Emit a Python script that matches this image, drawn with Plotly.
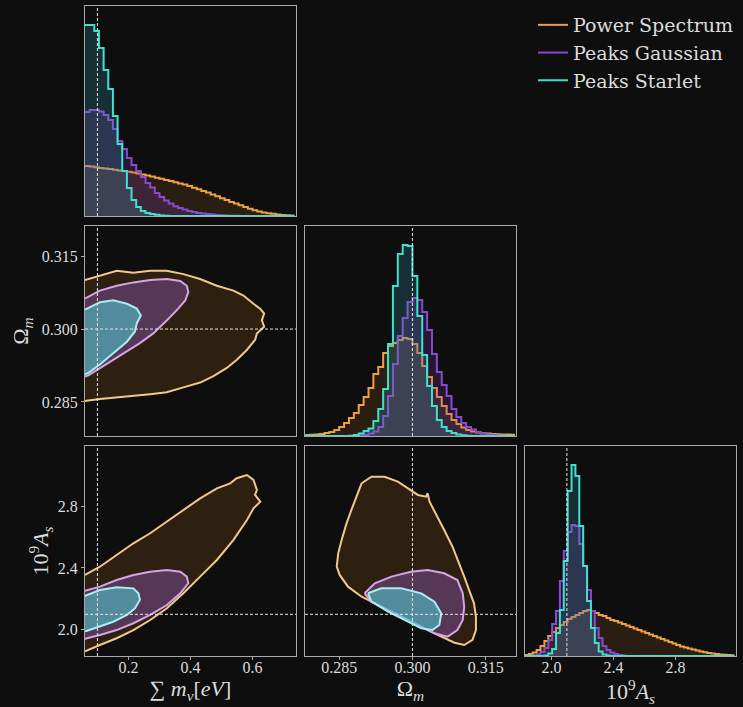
import numpy as np
import plotly.graph_objects as go

# ---------------- data ----------------
series_names = ["Power Spectrum", "Peaks Gaussian", "Peaks Starlet"]
fiducial_mnu = 0.1
fiducial_om = 0.3
fiducial_as = 2.1

range_mnu = [0.06, 0.74]
range_om = [0.278, 0.3212]
range_as = [1.83, 3.19]

ticks_mnu = [0.2, 0.4, 0.6]
ticks_om = [0.285, 0.300, 0.315]
ticks_as = [2.0, 2.4, 2.8]

# 1D marginal histograms (relative counts per bin)
mnu_bin_lo, mnu_bin_hi, mnu_nbins = 0.06, 0.735, 45
om_bin_lo, om_bin_hi, om_nbins = 0.278, 0.321, 43
as_bin_lo, as_bin_hi, as_nbins = 1.83, 3.18, 54

hist_mnu_ps = [50, 49.4, 48.8, 48.1, 47.5, 46.9, 46.3, 45.6, 45, 44.3, 43.6, 42.6, 41.5, 40.4, 39.4,
               38.3, 37.3, 36.1, 35, 33.8, 32.6, 31.5, 29.9, 28.3, 26.7, 25.1, 23.4, 21.5, 19.7, 17.8,
               16, 14.1, 12.4, 10.8, 9, 7.2, 5.7, 4.6, 3.6, 2.8, 2.2, 1.6, 1.1, 0.8, 0.6]
hist_mnu_pg = [104, 106, 106, 104.5, 101, 96, 87, 75, 67, 58, 51, 45, 39, 33, 28.5,
               23, 19, 15.5, 12.5, 9.7, 8, 6.5, 5, 4, 3, 2.4, 1.9, 1.4, 1, 0.7,
               0.5, 0.3, 0.2, 0, 0, 0, 0, 0, 0, 0, 0, 0, 0, 0, 0]
hist_mnu_st = [191, 191, 185, 168, 146, 127, 100, 72, 45, 28, 16, 9, 5, 3, 2,
               1.2, 0.6, 0.3, 0, 0, 0, 0, 0, 0, 0, 0, 0, 0, 0, 0,
               0, 0, 0, 0, 0, 0, 0, 0, 0, 0, 0, 0, 0, 0, 0]

hist_om_ps = [1, 1.2, 1.5, 2, 3, 4, 6, 9, 13, 18, 23, 31, 39, 48, 62, 69, 83, 90, 93, 96, 98, 97,
              92, 83, 70, 59, 48, 39, 30, 22, 16, 12, 8.5, 6, 4.5, 3.5, 2.8, 2.5, 2, 1.8, 1.6, 1.5, 1.3]
hist_om_pg = [0, 0, 0, 0, 0, 0, 0, 0, 0, 0, 0.3, 0.5, 1, 2.5, 4.5, 9, 20, 40, 72, 100, 118, 134,
              138, 136, 124, 106, 82, 64, 51, 40, 27, 19, 13, 9, 6.5, 4, 2.5, 1.5, 1, 0.5, 0.3, 0.1, 0]
hist_om_st = [0, 0, 0, 0, 0, 0, 0, 0, 0, 0.3, 1, 2.5, 5, 7.5, 15, 27, 47, 92, 150, 182, 191, 190,
              160, 120, 81, 50, 30, 16, 9, 5, 3, 1.5, 0.7, 0.3, 0, 0, 0, 0, 0, 0, 0, 0, 0]

hist_as_ps = [1, 2, 3.5, 6, 10, 15, 20, 24, 28, 31, 34, 37, 39, 41, 43, 45, 46, 45, 43, 41, 40, 38, 36, 35,
              33.5, 32, 30.5, 29, 27.5, 26, 24.5, 23, 21.5, 20, 18.5, 17, 15.5, 14, 12.5, 11, 9.5, 8.5,
              7.5, 6.5, 5.5, 4.5, 3.8, 3, 2.5, 2, 1.5, 1.2, 1, 0.8]
hist_as_pg = [0, 0, 0.5, 1.5, 4, 8, 16, 32, 45, 75, 105, 124, 131, 130, 112, 90, 66, 45, 28, 18, 10, 6,
              3.5, 2, 1, 0.5, 0, 0, 0, 0, 0, 0, 0, 0, 0, 0, 0, 0, 0, 0, 0, 0, 0, 0, 0, 0, 0, 0, 0, 0,
              0, 0, 0, 0]
hist_as_st = [0, 0, 0, 0, 0, 0.5, 2.5, 7, 23, 46, 95, 165, 191, 180, 130, 90, 55, 28, 13, 4.5, 1.5, 0.5,
              0, 0, 0, 0, 0, 0, 0, 0, 0, 0, 0, 0, 0, 0, 0, 0, 0, 0, 0, 0, 0, 0, 0, 0, 0, 0, 0, 0,
              0, 0, 0, 0]

# 2D credible contours (boundary vertices in data units)
c_mo_ps_x = [0.06, 0.0706, 0.1084, 0.1623, 0.2158, 0.2697, 0.3235, 0.3771, 0.4310, 0.4848, 0.5384, 0.5706,
             0.6029, 0.6245, 0.6374, 0.6300, 0.6374, 0.6139, 0.6084, 0.5816, 0.5494, 0.5171, 0.4739, 0.4310,
             0.3771, 0.3235, 0.2697, 0.2158, 0.1623, 0.1084, 0.0706, 0.06]
c_mo_ps_y = [0.3101, 0.3103, 0.3109, 0.3120, 0.3116, 0.3120, 0.3120, 0.3113, 0.3103, 0.3089, 0.3079, 0.3069,
             0.3052, 0.3042, 0.3032, 0.3018, 0.3005, 0.2991, 0.2978, 0.2957, 0.2937, 0.2920, 0.2903, 0.2890,
             0.2880, 0.2870, 0.2866, 0.2863, 0.2859, 0.2856, 0.2853, 0.2852]
c_mo_pg_x = [0.06, 0.067, 0.108, 0.162, 0.216, 0.270, 0.324, 0.367, 0.388, 0.393, 0.383, 0.356, 0.324, 0.280,
             0.237, 0.195, 0.151, 0.108, 0.071, 0.06]
c_mo_pg_y = [0.3063, 0.3065, 0.3079, 0.3089, 0.3096, 0.3101, 0.3103, 0.3099, 0.3089, 0.3076, 0.3059, 0.3039,
             0.3018, 0.2991, 0.2971, 0.2954, 0.2937, 0.2920, 0.2905, 0.2902]
c_mo_st_x = [0.06, 0.067, 0.108, 0.151, 0.195, 0.227, 0.240, 0.227, 0.221, 0.195, 0.151, 0.108, 0.071, 0.06]
c_mo_st_y = [0.3040, 0.3042, 0.3055, 0.3059, 0.3052, 0.3042, 0.3028, 0.3012, 0.2995, 0.2974, 0.2951, 0.2927,
             0.2910, 0.2907]

c_ma_ps_x = [0.06, 0.071, 0.108, 0.162, 0.216, 0.270, 0.324, 0.377, 0.431, 0.485, 0.528, 0.549, 0.582, 0.603,
             0.614, 0.608, 0.625, 0.603, 0.582, 0.538, 0.485, 0.431, 0.377, 0.324, 0.270, 0.216, 0.162, 0.108,
             0.071, 0.06]
c_ma_ps_y = [2.355, 2.366, 2.408, 2.484, 2.560, 2.625, 2.700, 2.776, 2.851, 2.916, 2.948, 2.981, 3.002, 2.970,
             2.905, 2.873, 2.829, 2.786, 2.711, 2.581, 2.452, 2.344, 2.236, 2.139, 2.063, 1.998, 1.945, 1.901,
             1.869, 1.860]
c_ma_pg_x = [0.06, 0.067, 0.108, 0.162, 0.216, 0.270, 0.324, 0.367, 0.388, 0.393, 0.367, 0.324, 0.270, 0.216,
             0.162, 0.108, 0.067, 0.06]
c_ma_pg_y = [2.253, 2.257, 2.279, 2.322, 2.355, 2.376, 2.387, 2.376, 2.344, 2.301, 2.236, 2.160, 2.096, 2.042,
             1.998, 1.966, 1.945, 1.941]
c_ma_st_x = [0.06, 0.067, 0.108, 0.162, 0.216, 0.232, 0.237, 0.221, 0.195, 0.151, 0.108, 0.067, 0.06]
c_ma_st_y = [2.219, 2.225, 2.257, 2.275, 2.268, 2.236, 2.193, 2.139, 2.096, 2.052, 2.020, 1.994, 1.990]

c_oa_ps_x = [0.2896, 0.2916, 0.2943, 0.2970, 0.2991, 0.3011, 0.3028, 0.3031, 0.3035, 0.3048, 0.3065, 0.3082,
             0.3096, 0.3106, 0.3116, 0.3126, 0.3130, 0.3130, 0.3123, 0.3106, 0.3086, 0.3059, 0.3031, 0.2997,
             0.2963, 0.2929, 0.2896, 0.2868, 0.2851, 0.2845, 0.2848, 0.2855, 0.2865, 0.2875, 0.2885]
c_oa_ps_y = [2.949, 2.991, 2.991, 2.959, 2.916, 2.873, 2.862, 2.884, 2.829, 2.754, 2.646, 2.538, 2.430, 2.344,
             2.257, 2.171, 2.084, 1.998, 1.934, 1.901, 1.916, 1.955, 1.998, 2.052, 2.106, 2.160, 2.214, 2.279,
             2.355, 2.408, 2.495, 2.581, 2.689, 2.776, 2.862]
c_oa_pg_x = [0.2902, 0.2923, 0.2957, 0.2997, 0.3031, 0.3065, 0.3092, 0.3103, 0.3106, 0.3103, 0.3092, 0.3072,
             0.3045, 0.3018, 0.2984, 0.2950, 0.2916]
c_oa_pg_y = [2.236, 2.301, 2.344, 2.376, 2.387, 2.366, 2.322, 2.236, 2.149, 2.063, 1.998, 1.955, 1.977, 2.020,
             2.074, 2.128, 2.182]
c_oa_st_x = [0.2909, 0.2936, 0.2977, 0.3018, 0.3045, 0.3059, 0.3055, 0.3041, 0.3018, 0.2984, 0.2950, 0.2916]
c_oa_st_y = [2.236, 2.268, 2.268, 2.236, 2.182, 2.106, 2.031, 1.998, 2.009, 2.063, 2.117, 2.182]

# ---------------- styles ----------------
BG = "#0e0e0e"
FRAME = "#a9a9a9"
TXT = "#dcdcdc"
FONT = "Liberation Serif, DejaVu Serif, serif"
LEGFONT = "DejaVu Serif, serif"

hist_line = ["#f0a040", "#8a4ad0", "#3fe0d0"]
hist_fill = ["rgba(230,140,50,0.13)", "rgba(130,60,180,0.22)", "rgba(60,170,190,0.22)"]
cont_line = ["#f2c78c", "#d7a3e8", "#a6eef2"]
cont_fill = ["rgba(230,140,40,0.15)", "rgba(160,100,210,0.36)", "rgba(80,190,200,0.62)"]

fig = go.Figure()


def add_hist(ax, lo, hi, n, vals, k):
    edges = np.linspace(lo, hi, n + 1)
    yy = list(vals) + [vals[-1]]
    fig.add_trace(go.Scatter(x=edges, y=yy, mode="lines", line=dict(color=hist_line[k], width=2, shape="hv"),
                             fill="tozeroy", fillcolor=hist_fill[k], xaxis="x" + ax, yaxis="y" + ax,
                             showlegend=False, hoverinfo="skip"))


def add_contour(ax, xs, ys, k, edge):
    fig.add_trace(go.Scatter(x=xs, y=ys, mode="lines", fill="toself", fillcolor=cont_fill[k],
                             line=dict(width=0), xaxis="x" + ax, yaxis="y" + ax,
                             showlegend=False, hoverinfo="skip"))
    lx = list(xs) if edge else list(xs) + [xs[0]]
    ly = list(ys) if edge else list(ys) + [ys[0]]
    fig.add_trace(go.Scatter(x=lx, y=ly, mode="lines", line=dict(color=cont_line[k], width=2),
                             xaxis="x" + ax, yaxis="y" + ax, showlegend=False, hoverinfo="skip"))


hists = [
    ("", mnu_bin_lo, mnu_bin_hi, mnu_nbins, [hist_mnu_ps, hist_mnu_pg, hist_mnu_st]),
    ("3", om_bin_lo, om_bin_hi, om_nbins, [hist_om_ps, hist_om_pg, hist_om_st]),
    ("6", as_bin_lo, as_bin_hi, as_nbins, [hist_as_ps, hist_as_pg, hist_as_st]),
]
for ax, lo, hi, n, vs in hists:
    for k, v in enumerate(vs):
        add_hist(ax, lo, hi, n, v, k)

conts = [
    ("2", [(c_mo_ps_x, c_mo_ps_y), (c_mo_pg_x, c_mo_pg_y), (c_mo_st_x, c_mo_st_y)], True),
    ("4", [(c_ma_ps_x, c_ma_ps_y), (c_ma_pg_x, c_ma_pg_y), (c_ma_st_x, c_ma_st_y)], True),
    ("5", [(c_oa_ps_x, c_oa_ps_y), (c_oa_pg_x, c_oa_pg_y), (c_oa_st_x, c_oa_st_y)], False),
]
for ax, lst, edge in conts:
    for k, (xs, ys) in enumerate(lst):
        add_contour(ax, xs, ys, k, edge)

# legend entries
for k, name in enumerate(series_names):
    fig.add_trace(go.Scatter(x=[None], y=[None], mode="lines", name=name,
                             line=dict(color=hist_line[k], width=2), xaxis="x", yaxis="y"))

# ---------------- layout ----------------
W, H = 743, 707
cols = [(85, 296), (305, 516), (525, 736)]
rows = [(6, 216), (226, 436), (446, 656)]


def xdom(c):
    return [cols[c][0] / W, cols[c][1] / W]


def ydom(r):
    return [1 - rows[r][1] / H, 1 - rows[r][0] / H]


def axis(domain, rng, anchor, tickvals=None, fmt=None, title=None, standoff=4, lab_off=0):
    d = dict(domain=domain, range=rng, anchor=anchor, showline=True, linecolor=FRAME, linewidth=1.3,
             mirror=True, showgrid=False, zeroline=False, fixedrange=True)
    if tickvals is not None:
        d.update(tickmode="array", tickvals=tickvals, ticktext=[fmt.format(t) for t in tickvals],
                 ticks="outside", ticklen=3, tickcolor=FRAME, tickwidth=1, ticklabelstandoff=lab_off,
                 tickfont=dict(family=FONT, size=16, color=TXT), showticklabels=True)
    else:
        d.update(showticklabels=False, ticks="")
    if title is not None:
        d["title"] = dict(text=title, font=dict(family=FONT, size=22, color=TXT), standoff=standoff)
    return d


hist_range = [0, 210]
t_mnu = "\u2211 <i>m<sub>\u03bd</sub></i>[<i>eV</i>]"
t_om = "\u03a9<sub><i>m</i></sub>"
t_as = "10<sup>9</sup><i>A<sub>s</sub></i>"

layout = dict(
    width=W, height=H, autosize=False, margin=dict(l=0, r=0, t=0, b=0),
    paper_bgcolor=BG, plot_bgcolor=BG,
    xaxis=axis(xdom(0), range_mnu, "y"),
    yaxis=axis(ydom(0), hist_range, "x"),
    xaxis2=axis(xdom(0), range_mnu, "y2"),
    yaxis2=axis(ydom(1), range_om, "x2", ticks_om, "{:.3f}", t_om, 6),
    xaxis3=axis(xdom(1), range_om, "y3"),
    yaxis3=axis(ydom(1), hist_range, "x3"),
    xaxis4=axis(xdom(0), range_mnu, "y4", ticks_mnu, "{:.1f}", t_mnu, 4, -6),
    yaxis4=axis(ydom(2), range_as, "x4", ticks_as, "{:.1f}", t_as, 2),
    xaxis5=axis(xdom(1), range_om, "y5", ticks_om, "{:.3f}", t_om, 4, -6),
    yaxis5=axis(ydom(2), range_as, "x5"),
    xaxis6=axis(xdom(2), range_as, "y6", ticks_as, "{:.1f}", t_as, 4, -6),
    yaxis6=axis(ydom(2), hist_range, "x6"),
    legend=dict(x=533 / W, y=1 - 6 / H, xanchor="left", yanchor="top", bgcolor="rgba(0,0,0,0)",
                font=dict(family=LEGFONT, size=19, color=TXT), itemwidth=30, tracegroupgap=0),
    showlegend=True,
)
fig.update_layout(**layout)

# fiducial dashed lines
dash = dict(color="#e6e6e6", width=1, dash="3px,2px")
vlines = [("x", "y", fiducial_mnu), ("x2", "y2", fiducial_mnu), ("x4", "y4", fiducial_mnu),
          ("x3", "y3", fiducial_om), ("x5", "y5", fiducial_om), ("x6", "y6", fiducial_as)]
hlines = [("x2", "y2", fiducial_om), ("x4", "y4", fiducial_as), ("x5", "y5", fiducial_as)]
for xr, yr, v in vlines:
    fig.add_shape(type="line", xref=xr, yref=yr + " domain", x0=v, x1=v, y0=0, y1=1, line=dash, layer="above")
for xr, yr, v in hlines:
    fig.add_shape(type="line", xref=xr + " domain", yref=yr, x0=0, x1=1, y0=v, y1=v, line=dash, layer="above")

fig.write_html("out.html", config={"displayModeBar": False},
               post_script="document.body.style.margin='0';document.body.style.overflow='hidden';")
